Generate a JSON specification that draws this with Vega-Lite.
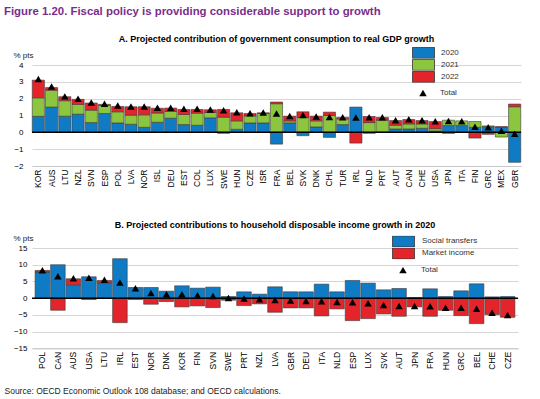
{
  "$schema": "https://vega.github.io/schema/vega-lite/v6.json",
  "background": "white",
  "padding": {"left": 4, "top": 5, "right": 0, "bottom": 0},
  "autosize": {"type": "pad"},
  "bounds": "flush",
  "spacing": 82,
  "resolve": {"scale": {"color": "independent", "shape": "independent"}, "legend": {"color": "independent", "shape": "independent"}},
  "title": {
    "text": "Figure 1.20. Fiscal policy is providing considerable support to growth",
    "anchor": "start",
    "frame": "bounds",
    "font": "Liberation Sans",
    "fontSize": 11.4,
    "fontWeight": "bold",
    "color": "#7B2C8E",
    "offset": 18
  },
  "config": {
    "font": "Liberation Sans",
    "view": {"stroke": null},
    "axis": {"labelFont": "Liberation Sans", "titleFont": "Liberation Sans", "labelColor": "#000", "titleColor": "#222", "labelOverlap": false},
    "legend": {"labelFont": "Liberation Sans", "labelColor": "#333", "labelFontSize": 8}
  },
  "datasets": {
    "a": [
      {"country": "KOR", "series": "2020", "value": 0.95}, {"country": "KOR", "series": "2021", "value": 1.1}, {"country": "KOR", "series": "2022", "value": 1.05},
      {"country": "AUS", "series": "2020", "value": 1.5}, {"country": "AUS", "series": "2021", "value": 1.0}, {"country": "AUS", "series": "2022", "value": 0.16},
      {"country": "LTU", "series": "2020", "value": 0.96}, {"country": "LTU", "series": "2021", "value": 0.92}, {"country": "LTU", "series": "2022", "value": 0.24},
      {"country": "NZL", "series": "2020", "value": 1.08}, {"country": "NZL", "series": "2021", "value": 0.58}, {"country": "NZL", "series": "2022", "value": 0.3},
      {"country": "SVN", "series": "2020", "value": 0.58}, {"country": "SVN", "series": "2021", "value": 0.74}, {"country": "SVN", "series": "2022", "value": 0.42},
      {"country": "ESP", "series": "2020", "value": 1.12}, {"country": "ESP", "series": "2021", "value": 0.48}, {"country": "ESP", "series": "2022", "value": 0.06},
      {"country": "POL", "series": "2020", "value": 0.56}, {"country": "POL", "series": "2021", "value": 0.66}, {"country": "POL", "series": "2022", "value": 0.32},
      {"country": "LVA", "series": "2020", "value": 0.48}, {"country": "LVA", "series": "2021", "value": 0.54}, {"country": "LVA", "series": "2022", "value": 0.5},
      {"country": "NOR", "series": "2020", "value": 0.3}, {"country": "NOR", "series": "2021", "value": 0.74}, {"country": "NOR", "series": "2022", "value": 0.48},
      {"country": "ISL", "series": "2020", "value": 0.6}, {"country": "ISL", "series": "2021", "value": 0.55}, {"country": "ISL", "series": "2022", "value": 0.28},
      {"country": "DEU", "series": "2020", "value": 0.84}, {"country": "DEU", "series": "2021", "value": 0.4}, {"country": "DEU", "series": "2022", "value": 0.2},
      {"country": "EST", "series": "2020", "value": 0.46}, {"country": "EST", "series": "2021", "value": 0.6}, {"country": "EST", "series": "2022", "value": 0.3},
      {"country": "COL", "series": "2020", "value": 0.42}, {"country": "COL", "series": "2021", "value": 0.72}, {"country": "COL", "series": "2022", "value": 0.22},
      {"country": "LUX", "series": "2020", "value": 0.86}, {"country": "LUX", "series": "2021", "value": 0.32}, {"country": "LUX", "series": "2022", "value": 0.16},
      {"country": "SWE", "series": "2020", "value": -0.06}, {"country": "SWE", "series": "2021", "value": 0.9}, {"country": "SWE", "series": "2022", "value": 0.46},
      {"country": "HUN", "series": "2020", "value": 0.18}, {"country": "HUN", "series": "2021", "value": 0.5}, {"country": "HUN", "series": "2022", "value": 0.48},
      {"country": "CZE", "series": "2020", "value": 0.56}, {"country": "CZE", "series": "2021", "value": 0.42}, {"country": "CZE", "series": "2022", "value": 0.14},
      {"country": "ISR", "series": "2020", "value": 0.56}, {"country": "ISR", "series": "2021", "value": 0.56}, {"country": "ISR", "series": "2022", "value": 0.04},
      {"country": "FRA", "series": "2020", "value": -0.7}, {"country": "FRA", "series": "2021", "value": 1.7}, {"country": "FRA", "series": "2022", "value": 0.1},
      {"country": "BEL", "series": "2020", "value": 0.56}, {"country": "BEL", "series": "2021", "value": 0.12}, {"country": "BEL", "series": "2022", "value": 0.28},
      {"country": "SVK", "series": "2020", "value": -0.2}, {"country": "SVK", "series": "2021", "value": 0.88}, {"country": "SVK", "series": "2022", "value": 0.34},
      {"country": "DNK", "series": "2020", "value": 0.32}, {"country": "DNK", "series": "2021", "value": 0.36}, {"country": "DNK", "series": "2022", "value": 0.28},
      {"country": "CHL", "series": "2020", "value": -0.3}, {"country": "CHL", "series": "2021", "value": 1.0}, {"country": "CHL", "series": "2022", "value": 0.2},
      {"country": "TUR", "series": "2020", "value": 0.46}, {"country": "TUR", "series": "2021", "value": 0.34}, {"country": "TUR", "series": "2022", "value": 0.08},
      {"country": "IRL", "series": "2020", "value": 1.5}, {"country": "IRL", "series": "2022", "value": -0.64},
      {"country": "NLD", "series": "2020", "value": -0.06}, {"country": "NLD", "series": "2021", "value": 0.58}, {"country": "NLD", "series": "2022", "value": 0.36},
      {"country": "PRT", "series": "2020", "value": 0.02}, {"country": "PRT", "series": "2021", "value": 0.7}, {"country": "PRT", "series": "2022", "value": 0.16},
      {"country": "AUT", "series": "2020", "value": 0.2}, {"country": "AUT", "series": "2021", "value": 0.22}, {"country": "AUT", "series": "2022", "value": 0.28},
      {"country": "CAN", "series": "2020", "value": 0.2}, {"country": "CAN", "series": "2021", "value": 0.3}, {"country": "CAN", "series": "2022", "value": 0.26},
      {"country": "CHE", "series": "2020", "value": 0.24}, {"country": "CHE", "series": "2021", "value": 0.26}, {"country": "CHE", "series": "2022", "value": 0.2},
      {"country": "USA", "series": "2020", "value": 0.08}, {"country": "USA", "series": "2021", "value": 0.14}, {"country": "USA", "series": "2022", "value": 0.42},
      {"country": "JPN", "series": "2020", "value": 0.4}, {"country": "JPN", "series": "2021", "value": 0.32}, {"country": "JPN", "series": "2022", "value": -0.06},
      {"country": "ITA", "series": "2020", "value": 0.4}, {"country": "ITA", "series": "2021", "value": 0.28},
      {"country": "FIN", "series": "2020", "value": 0.3}, {"country": "FIN", "series": "2021", "value": 0.34}, {"country": "FIN", "series": "2022", "value": -0.34},
      {"country": "GRC", "series": "2020", "value": 0.34}, {"country": "GRC", "series": "2021", "value": 0.04}, {"country": "GRC", "series": "2022", "value": -0.12},
      {"country": "MEX", "series": "2020", "value": 0.3}, {"country": "MEX", "series": "2021", "value": -0.28}, {"country": "MEX", "series": "2022", "value": 0.04},
      {"country": "GBR", "series": "2020", "value": -1.78}, {"country": "GBR", "series": "2021", "value": 1.52}, {"country": "GBR", "series": "2022", "value": 0.16}
    ],
    "at": [
      {"country": "KOR", "value": 3.15}, {"country": "AUS", "value": 2.7}, {"country": "LTU", "value": 2.12}, {"country": "NZL", "value": 1.98},
      {"country": "SVN", "value": 1.76}, {"country": "ESP", "value": 1.68}, {"country": "POL", "value": 1.58}, {"country": "LVA", "value": 1.52},
      {"country": "NOR", "value": 1.52}, {"country": "ISL", "value": 1.45}, {"country": "DEU", "value": 1.44}, {"country": "EST", "value": 1.38},
      {"country": "COL", "value": 1.38}, {"country": "LUX", "value": 1.34}, {"country": "SWE", "value": 1.3}, {"country": "HUN", "value": 1.18},
      {"country": "CZE", "value": 1.12}, {"country": "ISR", "value": 1.16}, {"country": "FRA", "value": 1.1}, {"country": "BEL", "value": 0.96},
      {"country": "SVK", "value": 1.02}, {"country": "DNK", "value": 0.92}, {"country": "CHL", "value": 0.9}, {"country": "TUR", "value": 0.88},
      {"country": "IRL", "value": 0.86}, {"country": "NLD", "value": 0.88}, {"country": "PRT", "value": 0.88}, {"country": "AUT", "value": 0.7},
      {"country": "CAN", "value": 0.76}, {"country": "CHE", "value": 0.7}, {"country": "USA", "value": 0.64}, {"country": "JPN", "value": 0.66},
      {"country": "ITA", "value": 0.64}, {"country": "FIN", "value": 0.32}, {"country": "GRC", "value": 0.28}, {"country": "MEX", "value": 0.08},
      {"country": "GBR", "value": -0.1}
    ],
    "b": [
      {"country": "POL", "series": "Social transfers", "value": 7.8}, {"country": "POL", "series": "Market income", "value": 0.5},
      {"country": "CAN", "series": "Social transfers", "value": 10.0}, {"country": "CAN", "series": "Market income", "value": -3.6},
      {"country": "AUS", "series": "Social transfers", "value": 4.0}, {"country": "AUS", "series": "Market income", "value": 1.8},
      {"country": "USA", "series": "Social transfers", "value": 6.4}, {"country": "USA", "series": "Market income", "value": -0.4},
      {"country": "LTU", "series": "Social transfers", "value": 4.6}, {"country": "LTU", "series": "Market income", "value": 0.7},
      {"country": "IRL", "series": "Social transfers", "value": 11.8}, {"country": "IRL", "series": "Market income", "value": -7.3},
      {"country": "EST", "series": "Social transfers", "value": 3.2}, {"country": "EST", "series": "Market income", "value": -0.4},
      {"country": "NOR", "series": "Social transfers", "value": 3.2}, {"country": "NOR", "series": "Market income", "value": -1.8},
      {"country": "DNK", "series": "Social transfers", "value": 2.1}, {"country": "DNK", "series": "Market income", "value": -1.0},
      {"country": "KOR", "series": "Social transfers", "value": 3.7}, {"country": "KOR", "series": "Market income", "value": -2.6},
      {"country": "FIN", "series": "Social transfers", "value": 3.0}, {"country": "FIN", "series": "Market income", "value": -2.3},
      {"country": "SVN", "series": "Social transfers", "value": 3.3}, {"country": "SVN", "series": "Market income", "value": -2.8},
      {"country": "SWE", "series": "Social transfers", "value": 0.5}, {"country": "SWE", "series": "Market income", "value": -0.6},
      {"country": "PRT", "series": "Social transfers", "value": 1.9}, {"country": "PRT", "series": "Market income", "value": -2.2},
      {"country": "NZL", "series": "Social transfers", "value": 1.2}, {"country": "NZL", "series": "Market income", "value": -1.7},
      {"country": "LVA", "series": "Social transfers", "value": 3.4}, {"country": "LVA", "series": "Market income", "value": -4.2},
      {"country": "GBR", "series": "Social transfers", "value": 1.9}, {"country": "GBR", "series": "Market income", "value": -2.9},
      {"country": "DEU", "series": "Social transfers", "value": 1.9}, {"country": "DEU", "series": "Market income", "value": -2.9},
      {"country": "ITA", "series": "Social transfers", "value": 4.2}, {"country": "ITA", "series": "Market income", "value": -5.3},
      {"country": "NLD", "series": "Social transfers", "value": 1.9}, {"country": "NLD", "series": "Market income", "value": -3.2},
      {"country": "ESP", "series": "Social transfers", "value": 5.3}, {"country": "ESP", "series": "Market income", "value": -6.7},
      {"country": "LUX", "series": "Social transfers", "value": 4.5}, {"country": "LUX", "series": "Market income", "value": -6.1},
      {"country": "SVK", "series": "Social transfers", "value": 2.5}, {"country": "SVK", "series": "Market income", "value": -4.7},
      {"country": "AUT", "series": "Social transfers", "value": 2.9}, {"country": "AUT", "series": "Market income", "value": -5.4},
      {"country": "JPN", "series": "Social transfers", "value": 0.2}, {"country": "JPN", "series": "Market income", "value": -2.6},
      {"country": "FRA", "series": "Social transfers", "value": 2.8}, {"country": "FRA", "series": "Market income", "value": -5.4},
      {"country": "HUN", "series": "Social transfers", "value": 0.5}, {"country": "HUN", "series": "Market income", "value": -3.6},
      {"country": "GRC", "series": "Social transfers", "value": 2.2}, {"country": "GRC", "series": "Market income", "value": -5.2},
      {"country": "BEL", "series": "Social transfers", "value": 4.3}, {"country": "BEL", "series": "Market income", "value": -7.6},
      {"country": "CHE", "series": "Social transfers", "value": 0.4}, {"country": "CHE", "series": "Market income", "value": -4.9},
      {"country": "CZE", "series": "Social transfers", "value": 0.5}, {"country": "CZE", "series": "Market income", "value": -5.7}
    ],
    "bt": [
      {"country": "POL", "value": 8.3}, {"country": "CAN", "value": 6.5}, {"country": "AUS", "value": 5.9}, {"country": "USA", "value": 6.0},
      {"country": "LTU", "value": 5.4}, {"country": "IRL", "value": 4.6}, {"country": "EST", "value": 2.9}, {"country": "NOR", "value": 1.5},
      {"country": "DNK", "value": 1.1}, {"country": "KOR", "value": 1.1}, {"country": "FIN", "value": 0.8}, {"country": "SVN", "value": 0.6},
      {"country": "SWE", "value": 0.0}, {"country": "PRT", "value": -0.2}, {"country": "NZL", "value": -0.4}, {"country": "LVA", "value": -0.6},
      {"country": "GBR", "value": -0.8}, {"country": "DEU", "value": -0.9}, {"country": "ITA", "value": -1.0}, {"country": "NLD", "value": -1.2},
      {"country": "ESP", "value": -1.3}, {"country": "LUX", "value": -1.6}, {"country": "SVK", "value": -2.1}, {"country": "AUT", "value": -2.4},
      {"country": "JPN", "value": -2.4}, {"country": "FRA", "value": -2.5}, {"country": "HUN", "value": -2.9}, {"country": "GRC", "value": -2.9},
      {"country": "BEL", "value": -3.2}, {"country": "CHE", "value": -4.4}, {"country": "CZE", "value": -5.1}
    ]
  },
  "vconcat": [
    {
      "width": 489,
      "height": 101,
      "title": {"text": "A. Projected contribution of government consumption to real GDP growth", "fontSize": 9, "fontWeight": "bold", "color": "#000", "anchor": "middle", "offset": 3},
      "encoding": {
        "y": {"field": "value", "type": "quantitative", "scale": {"domain": [-2, 4], "nice": false},
          "axis": {"values": [-2, -1, 0, 1, 2, 3, 4], "grid": true, "gridColor": "#d6d6d6", "gridWidth": 1, "domain": false, "ticks": false, "labelFontSize": 8, "labelPadding": 9,
            "title": "% pts", "titleAngle": 0, "titleAlign": "left", "titleBaseline": "alphabetic", "titleX": -19, "titleY": -8, "titleFontSize": 8, "titleFontWeight": "normal"}}
      },
      "layer": [
        {
          "data": {"name": "a"},
          "mark": {"type": "bar", "stroke": "#3a3a3a", "strokeWidth": 0.6},
          "encoding": {
            "x": {"field": "country", "type": "nominal", "sort": null, "scale": {"paddingInner": 0.08, "paddingOuter": 0.02},
              "axis": {"title": null, "labelAngle": -90, "labelFontSize": 8.5, "labelPadding": 3, "ticks": false, "domain": true, "domainColor": "#c8c8c8", "domainWidth": 1}},
            "y": {"field": "value", "type": "quantitative", "stack": "zero"},
            "color": {"field": "series", "type": "nominal",
              "scale": {"domain": ["2020", "2021", "2022"], "range": ["#0F7BC4", "#8CC63E", "#E3242B"]},
              "legend": {"title": null, "orient": "none", "legendX": 380, "legendY": -18, "symbolType": "M-1,-0.5H1V0.5H-1Z", "symbolSize": 484, "symbolStrokeColor": "#333", "symbolStrokeWidth": 0.8, "clipHeight": 11.7, "rowPadding": 0, "labelOffset": 6}},
            "order": {"field": "series", "sort": "ascending"}
          }
        },
        {
          "data": {"values": [{"value": 0}]},
          "mark": {"type": "rule", "color": "#000", "strokeWidth": 1.5},
          "encoding": {}
        },
        {
          "data": {"name": "at"},
          "mark": {"type": "point", "filled": true, "color": "#000", "opacity": 1, "size": 484, "strokeWidth": 0},
          "encoding": {
            "x": {"field": "country", "type": "nominal", "sort": null, "scale": {"paddingInner": 0.08, "paddingOuter": 0.02},
              "axis": {"title": null, "labelAngle": -90, "labelFontSize": 8.5, "labelPadding": 3, "ticks": false, "domain": true, "domainColor": "#c8c8c8", "domainWidth": 1}},
            "shape": {"datum": "Total", "scale": {"range": ["M0,-0.32L0.34,0.27L-0.34,0.27Z"]},
              "legend": {"title": null, "orient": "none", "legendX": 380, "legendY": 22.3, "symbolSize": 484, "symbolFillColor": "#000", "symbolStrokeWidth": 0, "clipHeight": 12, "labelOffset": 6}}
          }
        }
      ]
    },
    {
      "width": 486,
      "height": 100.4,
      "title": {"text": "B. Projected contributions to household disposable income growth in 2020", "fontSize": 9, "fontWeight": "bold", "color": "#000", "anchor": "middle", "offset": 4},
      "encoding": {
        "y": {"field": "value", "type": "quantitative", "scale": {"domain": [-15, 15], "nice": false},
          "axis": {"values": [-15, -10, -5, 0, 5, 10, 15], "grid": true, "gridColor": "#d6d6d6", "gridWidth": 1, "domain": false, "ticks": false, "labelFontSize": 8, "labelPadding": 5,
            "title": "% pts", "titleAngle": 0, "titleAlign": "left", "titleBaseline": "alphabetic", "titleX": -19, "titleY": -8, "titleFontSize": 8, "titleFontWeight": "normal"}}
      },
      "layer": [
        {
          "data": {"name": "b"},
          "mark": {"type": "bar", "stroke": "#3a3a3a", "strokeWidth": 0.6},
          "encoding": {
            "x": {"field": "country", "type": "nominal", "sort": null, "scale": {"paddingInner": 0.06, "paddingOuter": 0.2},
              "axis": {"labelAngle": -90, "labelFontSize": 8.5, "labelPadding": 3, "ticks": false, "domain": true, "domainColor": "#c8c8c8", "domainWidth": 1,
                "title": "Source: OECD Economic Outlook 108 database; and OECD calculations.", "titleAnchor": "start", "titleAlign": "left", "titleBaseline": "alphabetic",
                "titleX": -28, "titleY": 45, "titleFontSize": 8.5, "titleFontWeight": "normal", "titleColor": "#222"}},
            "y": {"field": "value", "type": "quantitative", "stack": "zero"},
            "color": {"field": "series", "type": "nominal",
              "scale": {"domain": ["Social transfers", "Market income"], "range": ["#0F7BC4", "#E3242B"]},
              "legend": {"title": null, "orient": "none", "legendX": 360, "legendY": -12.3, "symbolType": "M-1,-0.5H1V0.5H-1Z", "symbolSize": 484, "symbolStrokeColor": "#333", "symbolStrokeWidth": 0.8, "clipHeight": 11.5, "rowPadding": 0, "labelOffset": 7}},
            "order": {"field": "series", "sort": "descending"}
          }
        },
        {
          "data": {"values": [{"value": 0}]},
          "mark": {"type": "rule", "color": "#000", "strokeWidth": 1.5},
          "encoding": {}
        },
        {
          "data": {"name": "bt"},
          "mark": {"type": "point", "filled": true, "color": "#000", "opacity": 1, "size": 484, "strokeWidth": 0},
          "encoding": {
            "x": {"field": "country", "type": "nominal", "sort": null, "scale": {"paddingInner": 0.06, "paddingOuter": 0.2},
              "axis": {"labelAngle": -90, "labelFontSize": 8.5, "labelPadding": 3, "ticks": false, "domain": true, "domainColor": "#c8c8c8", "domainWidth": 1,
                "title": "Source: OECD Economic Outlook 108 database; and OECD calculations.", "titleAnchor": "start", "titleAlign": "left", "titleBaseline": "alphabetic",
                "titleX": -28, "titleY": 45, "titleFontSize": 8.5, "titleFontWeight": "normal", "titleColor": "#222"}},
            "shape": {"datum": "Total", "scale": {"range": ["M0,-0.32L0.34,0.27L-0.34,0.27Z"]},
              "legend": {"title": null, "orient": "none", "legendX": 360, "legendY": 16.4, "symbolSize": 484, "symbolFillColor": "#000", "symbolStrokeWidth": 0, "clipHeight": 12, "labelOffset": 7}}
          }
        }
      ]
    }
  ]
}
